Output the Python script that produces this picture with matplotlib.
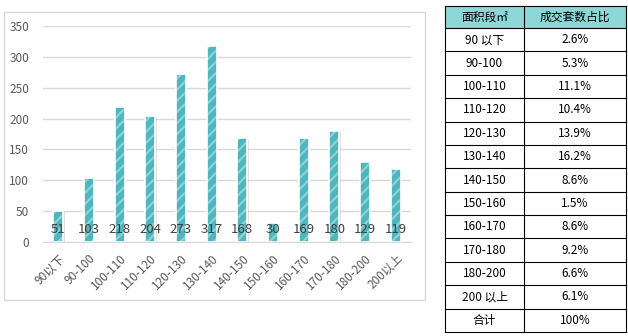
import numpy as np
import matplotlib
matplotlib.use("Agg")
import matplotlib.pyplot as plt
from matplotlib.patches import Rectangle

plt.rcParams['font.family'] = ['Noto Sans CJK SC', 'DejaVu Sans']
plt.rcParams['hatch.linewidth'] = 1.6

# area brackets and number of deals
segments = ['90以下', '90-100', '100-110', '110-120', '120-130', '130-140',
            '140-150', '150-160', '160-170', '170-180', '180-200', '200以上']
deals = [51, 103, 218, 204, 273, 317, 168, 30, 169, 180, 129, 119]

# share table on the right
table_header = ['面积段㎡', '成交套数占比']
table_segments = ['90 以下', '90-100', '100-110', '110-120', '120-130', '130-140',
                  '140-150', '150-160', '160-170', '170-180', '180-200', '200 以上', '合计']
table_shares = ['2.6%', '5.3%', '11.1%', '10.4%', '13.9%', '16.2%', '8.6%',
                '1.5%', '8.6%', '9.2%', '6.6%', '6.1%', '100%']

W, H = 628, 336
fig = plt.figure(figsize=(W / 100, H / 100), dpi=100)


def fx(px):
    return px / W


def fy(py):
    return 1 - py / H


# chart frame
fig.patches.append(Rectangle((fx(4), fy(300)), fx(425 - 4), fy(12) - fy(300),
                             transform=fig.transFigure, fill=False,
                             edgecolor='#d9d9d9', linewidth=1))

ax = fig.add_axes([fx(43), fy(242), fx(411 - 43), fy(26) - fy(242)])
x = np.arange(len(segments))
bw = 0.33

# soft shadow, hatched fill, white outline
ax.bar(x + 0.04, deals, width=bw, bottom=-2, color='#bfbfbf', alpha=0.45,
       linewidth=0, zorder=2)
ax.bar(x, deals, width=bw, color='#4db6be', edgecolor='#8ed2d5', hatch='///',
       linewidth=0, zorder=3)
ax.bar(x, deals, width=bw, fill=False, edgecolor='white', linewidth=1.2, zorder=4)

for xi, v in zip(x, deals):
    ax.text(xi, 21, str(v), ha='center', va='center', fontsize=9.5,
            color='#404040', zorder=5)

ax.set_xlim(-0.5, len(segments) - 0.5)
ax.set_ylim(0, 350)
ax.set_yticks(np.arange(0, 351, 50))
ax.yaxis.grid(True, color='#d9d9d9', linewidth=1)
ax.set_axisbelow(True)
for s in ['top', 'right', 'left']:
    ax.spines[s].set_visible(False)
ax.spines['bottom'].set_color('#d9d9d9')
ax.tick_params(axis='both', length=0, labelsize=8.5, labelcolor='#595959')
ax.tick_params(axis='y', pad=10)
ax.set_xticks(x)
ax.set_xticklabels(segments, rotation=45, ha='right', rotation_mode='anchor')
ax.tick_params(axis='x', pad=7)

# share table
left, mid, right = 445, 524, 626
top, head_bottom, bottom = 6, 28, 332
row_h = (bottom - head_bottom) / len(table_segments)

fig.patches.append(Rectangle((fx(left), fy(head_bottom)), fx(right - left),
                             fy(top) - fy(head_bottom), transform=fig.transFigure,
                             facecolor='#8dd7d7', edgecolor='none'))
ys = [top, head_bottom] + [head_bottom + row_h * (i + 1) for i in range(len(table_segments))]
for yy in ys:
    fig.add_artist(plt.Line2D([fx(left), fx(right)], [fy(yy), fy(yy)],
                              color='black', linewidth=0.8))
for xx in [left, mid, right]:
    fig.add_artist(plt.Line2D([fx(xx), fx(xx)], [fy(top), fy(bottom)],
                              color='black', linewidth=0.8))

fig.text(fx((left + mid) / 2), fy((top + head_bottom) / 2), table_header[0],
         ha='center', va='center', fontsize=8.5, color='black')
fig.text(fx((mid + right) / 2), fy((top + head_bottom) / 2), table_header[1],
         ha='center', va='center', fontsize=8.5, color='black')
for i, (seg, share) in enumerate(zip(table_segments, table_shares)):
    yc = head_bottom + row_h * (i + 0.5)
    fig.text(fx((left + mid) / 2), fy(yc), seg, ha='center', va='center',
             fontsize=8.5, color='black')
    fig.text(fx((mid + right) / 2), fy(yc), share, ha='center', va='center',
             fontsize=8.5, color='black')

fig.savefig('out.png', dpi=100)
